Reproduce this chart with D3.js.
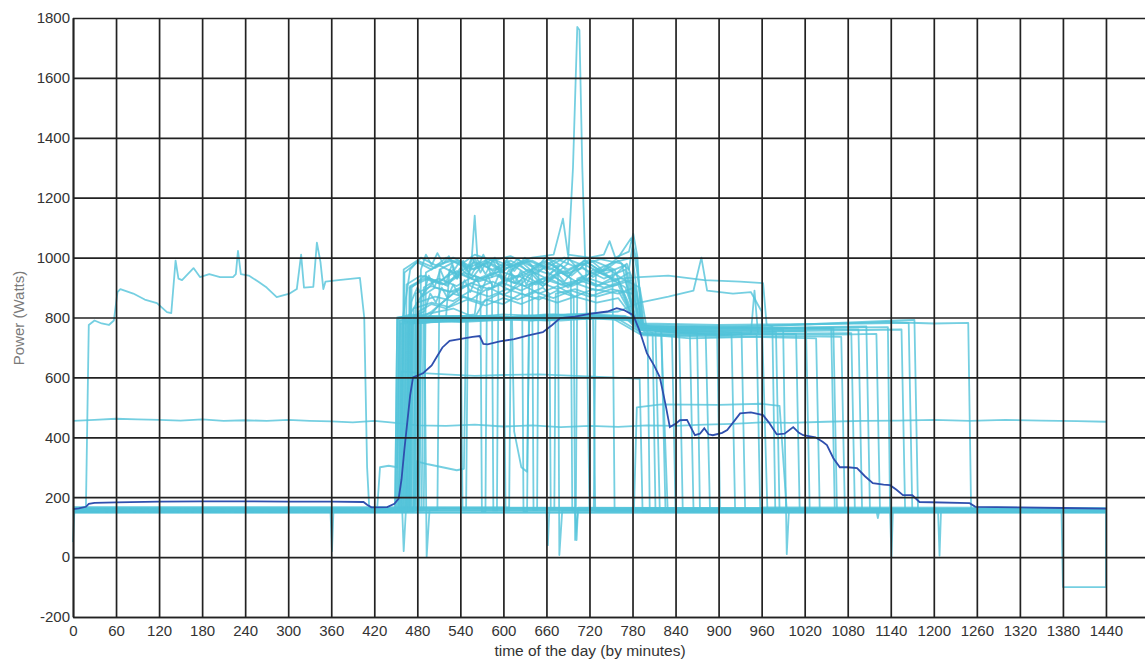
<!DOCTYPE html>
<html>
<head>
<meta charset="utf-8">
<script src="https://cdn.jsdelivr.net/npm/d3@7"></script>
<style>
  body { margin: 0; background: #fff; }
  svg { display: block; }
  text { font-family: "Liberation Sans", Arial, sans-serif; }
</style>
</head>
<body>
<div id="chart"></div>
<script>
// tick values
const minuteTicks = [0, 60, 120, 180, 240, 300, 360, 420, 480, 540, 600, 660, 720, 780, 840, 900, 960, 1020, 1080, 1140, 1200, 1260, 1320, 1380, 1440]
const powerTicks = [-200, 0, 200, 400, 600, 800, 1000, 1200, 1400, 1600, 1800]

// [minute, watts]
const meanProfile = [[0,160],[8,163],[18,168],[22,178],[30,181],[60,183],[120,185],[180,186],[240,186],[300,185],[360,185],[405,184],[410,175],[416,166],[438,167],[448,178],[454,195],[458,260],[462,360],[466,450],[470,540],[474,600],[488,614],[500,640],[507,668],[515,700],[525,722],[545,730],[557,735],[567,738],[572,712],[578,710],[595,720],[615,728],[635,740],[655,751],[668,775],[679,798],[700,803],[720,812],[745,820],[758,831],[768,825],[781,808],[790,755],[800,681],[810,640],[818,601],[826,510],[832,434],[840,445],[846,457],[856,458],[862,430],[867,407],[874,412],[880,430],[886,410],[892,407],[905,415],[912,424],[922,455],[930,480],[945,483],[962,474],[970,450],[981,410],[992,412],[1004,434],[1012,415],[1018,407],[1035,400],[1045,385],[1051,374],[1060,330],[1069,300],[1080,300],[1093,297],[1104,270],[1115,247],[1130,242],[1139,240],[1148,225],[1157,207],[1170,207],[1180,184],[1250,180],[1258,168],[1320,166],[1380,164],[1440,162]]

const nightRun = [[0,50],[2,160],[18,162],[22,775],[30,790],[40,780],[50,775],[57,790],[62,885],[66,895],[84,880],[100,860],[117,848],[131,818],[137,815],[143,990],[147,930],[152,925],[160,945],[168,965],[177,935],[190,945],[205,935],[223,935],[227,945],[230,1022],[234,945],[245,940],[258,920],[270,900],[284,868],[294,875],[302,880],[312,895],[318,1010],[322,900],[335,902],[340,1050],[345,985],[349,895],[352,920],[370,925],[400,932],[406,800],[410,300],[413,162],[1440,158]]

const steadyRun = [[0,455],[30,458],[60,462],[90,460],[120,458],[150,456],[180,460],[210,455],[240,457],[270,455],[300,458],[330,455],[360,453],[390,450],[420,455],[450,448],[480,440],[520,438],[560,442],[600,436],[640,440],[680,434],[720,438],[760,435],[800,440],[840,438],[880,442],[920,445],[960,450],[1000,448],[1050,452],[1100,455],[1150,456],[1200,458],[1250,455],[1300,458],[1350,456],[1400,454],[1440,452]]

const idleRuns = [
  [[0,150],[359,150],[361,20],[363,150],[1206,150],[1208,5],[1210,150],[1440,150]],
  [[0,162],[1378,160],[1380,-100],[1440,-100],[1440,160]],
  [[0,155],[660,155],[662,40],[664,155],[1120,155],[1122,130],[1124,155],[1139,155],[1141,0],[1143,155],[1440,155]],
  [[0,165],[700,165],[702,57],[704,165],[1440,160]],
  [[0,157],[782,157],[786,500],[820,510],[900,508],[960,512],[985,505],[995,157],[1440,155]],
  [[0,148],[1440,148]],
  [[0,167],[1440,165]]
]

const dayRuns = [
  [[0,152],[449,156],[452,795],[468,805],[488,880],[505,925],[522,905],[540,965],[556,930],[575,990],[598,950],[620,995],[645,945],[665,980],[690,935],[712,990],[736,955],[760,1000],[778,1065],[786,990],[795,765],[801,752],[804,155],[1440,152]],
  [[0,155],[455,158],[458,785],[480,790],[505,795],[530,800],[560,810],[565,900],[585,920],[610,890],[630,940],[655,905],[680,950],[705,915],[725,960],[750,930],[772,980],[784,900],[795,770],[812,760],[818,158],[1440,155]],
  [[0,158],[459,160],[462,950],[480,985],[500,960],[520,1000],[540,975],[560,1010],[585,990],[610,1005],[640,970],[665,995],[690,960],[715,990],[720,160],[726,160],[729,960],[755,985],[780,1000],[792,780],[820,755],[829,158],[1440,158]],
  [[0,150],[463,153],[466,790],[495,800],[510,840],[530,880],[555,860],[580,900],[600,875],[625,910],[650,880],[675,905],[700,870],[725,895],[760,880],[782,900],[790,745],[835,740],[840,152],[1440,150]],
  [[0,160],[469,162],[472,900],[490,940],[510,915],[530,960],[540,930],[543,162],[548,162],[551,940],[556,1000],[560,1140],[564,990],[585,955],[610,980],[635,940],[660,970],[685,945],[710,965],[740,930],[770,960],[785,775],[845,760],[850,160],[1440,160]],
  [[0,154],[474,156],[477,780],[520,790],[560,795],[600,800],[640,805],[680,800],[720,810],[760,805],[785,790],[800,765],[870,750],[874,156],[1440,154]],
  [[0,156],[479,158],[482,820],[500,845],[520,830],[545,870],[570,850],[595,880],[620,860],[645,885],[670,865],[695,890],[720,870],[750,895],[780,880],[795,760],[882,745],[888,158],[1440,156]],
  [[0,153],[457,155],[460,800],[470,960],[485,1000],[505,975],[530,990],[555,960],[580,985],[600,955],[603,155],[608,155],[611,960],[635,990],[660,965],[685,1000],[710,975],[735,995],[765,980],[785,770],[840,750],[898,745],[902,155],[1440,153]],
  [[0,157],[461,159],[464,785],[500,790],[540,785],[580,790],[620,795],[660,790],[700,800],[740,795],[780,790],[800,745],[860,740],[918,745],[923,159],[1440,157]],
  [[0,151],[467,153],[470,905],[490,930],[515,910],[540,945],[565,920],[590,940],[615,915],[626,925],[628,153],[633,153],[636,910],[660,935],[685,905],[710,930],[740,900],[770,925],[788,770],[860,755],[932,750],[937,153],[1440,151]],
  [[0,159],[471,161],[474,790],[520,800],[570,805],[620,800],[670,810],[720,805],[770,800],[792,760],[850,748],[900,742],[953,745],[958,161],[1440,159]],
  [[0,155],[483,157],[486,870],[505,900],[530,885],[555,915],[580,895],[605,925],[630,905],[655,930],[680,910],[705,925],[730,905],[760,930],[790,935],[830,940],[880,925],[930,920],[962,915],[967,775],[975,770],[979,157],[1440,155]],
  [[0,152],[454,154],[457,780],[500,785],[560,790],[620,795],[680,790],[740,800],[785,790],[800,760],[900,755],[990,760],[995,10],[998,154],[1440,152]],
  [[0,158],[477,160],[480,850],[505,870],[530,855],[555,890],[580,870],[605,895],[630,875],[655,900],[664,880],[666,160],[671,160],[673,880],[700,895],[730,870],[760,890],[790,760],[900,740],[1008,745],[1013,160],[1440,158]],
  [[0,154],[489,156],[492,950],[510,975],[535,945],[560,985],[585,960],[610,990],[635,955],[660,985],[685,950],[710,980],[740,945],[770,975],[790,765],[900,750],[1022,755],[1027,156],[1440,154]],
  [[0,156],[449,158],[452,800],[500,805],[550,800],[600,810],[650,805],[700,810],[750,800],[790,745],[860,730],[950,735],[1036,730],[1041,158],[1440,156]],
  [[0,153],[462,155],[465,910],[485,940],[510,920],[535,955],[560,925],[585,950],[610,925],[635,960],[660,930],[685,955],[694,930],[696,155],[701,155],[703,930],[730,955],[760,925],[790,765],[900,760],[1057,765],[1062,155],[1440,153]],
  [[0,160],[469,162],[472,790],[530,795],[590,800],[650,795],[710,805],[770,800],[795,740],[900,735],[1000,738],[1071,735],[1076,162],[1440,160]],
  [[0,151],[475,153],[478,880],[500,905],[525,885],[550,910],[568,890],[570,153],[575,153],[577,890],[600,915],[625,890],[650,920],[675,895],[700,915],[730,890],[760,910],[790,750],[900,745],[1085,748],[1090,153],[1440,151]],
  [[0,157],[481,159],[484,800],[540,805],[600,800],[660,810],[720,805],[780,795],[800,760],[950,765],[1095,760],[1100,159],[1440,157]],
  [[0,155],[458,157],[461,960],[480,990],[505,965],[530,1000],[555,970],[580,995],[605,965],[630,990],[640,970],[642,157],[647,157],[649,965],[675,995],[700,970],[725,990],[755,960],[785,770],[950,765],[1106,770],[1111,157],[1440,155]],
  [[0,152],[465,154],[468,780],[520,790],[580,795],[640,790],[700,800],[760,795],[795,745],[900,740],[945,745],[950,890],[955,745],[1050,742],[1120,745],[1125,154],[1440,152]],
  [[0,158],[472,160],[475,830],[500,850],[525,835],[550,860],[575,840],[600,865],[625,845],[650,870],[675,850],[700,870],[730,850],[760,865],[790,770],[1000,765],[1136,768],[1139,160],[1440,158]],
  [[0,154],[486,156],[489,900],[510,930],[535,905],[560,940],[584,915],[586,156],[591,156],[593,915],[620,940],[645,910],[670,935],[695,905],[720,930],[750,905],[780,925],[795,760],[1000,755],[1155,760],[1160,156],[1440,154]],
  [[0,156],[452,158],[455,790],[520,795],[600,800],[680,795],[760,800],[795,780],[900,775],[1000,778],[1100,780],[1165,782],[1170,158],[1440,156]],
  [[0,153],[460,155],[463,800],[530,805],[610,800],[690,810],[770,805],[800,775],[900,770],[1000,775],[1100,785],[1150,790],[1173,792],[1178,155],[1440,153]],
  [[0,159],[470,161],[473,790],[540,795],[620,800],[700,795],[780,800],[800,770],[900,765],[1000,775],[1100,782],[1135,785],[1200,780],[1248,782],[1252,161],[1440,159]],
  [[0,155],[451,157],[454,800],[470,810],[490,805],[493,0],[497,157],[508,157],[511,960],[535,990],[560,960],[585,995],[610,970],[640,990],[665,960],[676,975],[678,7],[682,155],[1440,155]],
  [[0,157],[466,159],[469,900],[495,930],[520,910],[545,950],[570,930],[595,955],[620,935],[645,960],[670,940],[690,980],[697,1300],[703,1770],[706,1760],[710,1300],[714,990],[735,955],[752,960],[755,159],[1440,157]],
  [[0,150],[454,152],[458,620],[480,615],[520,610],[560,605],[600,608],[650,610],[700,605],[750,600],[790,595],[794,152],[1440,150]],
  [[0,158],[424,160],[428,300],[440,305],[452,300],[456,790],[490,810],[530,830],[560,800],[575,860],[600,845],[625,880],[650,860],[675,890],[698,870],[700,57],[704,158],[1440,158]],
  [[0,154],[459,154],[461,20],[464,154],[476,156],[479,320],[495,310],[515,300],[535,290],[545,295],[548,800],[580,805],[612,800],[615,420],[625,300],[633,285],[636,790],[680,800],[725,795],[728,154],[1440,154]],
  [[0,152],[476,154],[479,790],[500,820],[530,880],[560,920],[600,960],[640,1000],[670,1010],[683,1130],[690,1010],[720,1000],[740,1010],[748,1055],[756,1000],[775,1020],[781,1080],[787,1000],[792,770],[820,760],[826,154],[1440,152]],
  [[0,156],[464,158],[467,780],[540,790],[620,800],[700,810],[760,820],[790,850],[830,870],[865,890],[876,1000],[884,890],[920,880],[945,885],[960,820],[968,158],[1440,156]],
  [[0,153],[468,155],[471,850],[480,900],[488,870],[496,940],[504,900],[512,960],[520,915],[528,975],[536,930],[544,990],[552,945],[560,1000],[568,950],[576,985],[584,935],[592,970],[600,925],[608,960],[616,915],[624,955],[632,910],[640,945],[655,905],[670,940],[690,900],[710,935],[730,905],[750,930],[770,900],[790,760],[808,750],[812,155],[1440,153]],
  [[0,158],[482,160],[485,960],[492,1010],[500,975],[508,1015],[516,980],[524,1005],[532,960],[540,990],[548,955],[556,1000],[564,965],[572,1010],[580,970],[588,1000],[596,960],[604,990],[612,955],[620,985],[635,950],[650,980],[665,945],[680,975],[695,940],[710,970],[725,935],[745,965],[765,930],[790,900],[800,760],[860,745],[865,158],[1440,158]],
  [[0,151],[465,153],[468,800],[490,820],[498,880],[506,850],[514,900],[522,865],[530,910],[538,875],[546,925],[554,885],[562,935],[570,890],[578,940],[586,900],[594,945],[602,905],[610,950],[625,910],[640,955],[655,915],[670,960],[685,920],[700,965],[715,925],[735,960],[755,920],[775,950],[792,760],[900,748],[980,752],[985,153],[1440,151]],
  [[0,156],[457,158],[460,790],[520,800],[525,960],[535,930],[545,975],[555,940],[565,985],[575,945],[585,990],[595,950],[605,995],[615,955],[630,1000],[645,960],[660,1005],[675,965],[690,1000],[705,960],[720,995],[740,955],[760,990],[775,960],[780,1040],[786,960],[796,770],[1000,760],[1060,765],[1065,156],[1440,156]]
]

const width = 1145
const height = 659
const margin = { left: 73, top: 18, bottom: 42 }

const x = d3.scaleLinear().domain([0, 1500]).range([margin.left, 1149])
const y = d3.scaleLinear().domain([-200, 1800]).range([height - margin.bottom, margin.top])

const svg = d3.select("#chart")
  .append("svg")
  .attr("width", width)
  .attr("height", height)

const line = d3.line().x(d => x(d[0])).y(d => y(d[1]))

const runs = [nightRun, steadyRun].concat(idleRuns, dayRuns)
svg.append("g")
  .selectAll("path")
  .data(runs)
  .enter()
  .append("path")
  .attr("d", line)
  .attr("fill", "none")
  .attr("stroke", "#52c3da")
  .attr("stroke-opacity", 0.8)
  .attr("stroke-width", 1.8)
  .attr("stroke-linejoin", "round")

svg.append("path")
  .datum(meanProfile)
  .attr("d", line)
  .attr("fill", "none")
  .attr("stroke", "#2f4fae")
  .attr("stroke-width", 1.8)

// grid + axes drawn over the lines, like the original
svg.append("g")
  .attr("transform", "translate(0," + y(-200) + ")")
  .call(d3.axisBottom(x).tickValues(minuteTicks).tickFormat(d => String(d))
    .tickSize(-(y(-200) - y(1800))).tickSizeOuter(0).tickPadding(8))
svg.append("g")
  .attr("transform", "translate(" + x(0) + ",0)")
  .call(d3.axisLeft(y).tickValues(powerTicks).tickFormat(d => String(d))
    .tickSize(-(width - x(0))).tickSizeOuter(0).tickPadding(3))

svg.selectAll(".tick line").attr("stroke", "#222").attr("stroke-width", 1.7)
svg.selectAll(".domain").attr("stroke", "#222").attr("stroke-width", 1.7)
svg.selectAll(".tick text").attr("fill", "#333").style("font-size", "15px")

svg.append("text")
  .attr("x", 590)
  .attr("y", 656)
  .attr("text-anchor", "middle")
  .attr("fill", "#333")
  .style("font-size", "15.5px")
  .text("time of the day (by minutes)")

svg.append("text")
  .attr("transform", "translate(24,318) rotate(-90)")
  .attr("text-anchor", "middle")
  .attr("fill", "#7a7a7a")
  .style("font-size", "15px")
  .text("Power (Watts)")
</script>
</body>
</html>
